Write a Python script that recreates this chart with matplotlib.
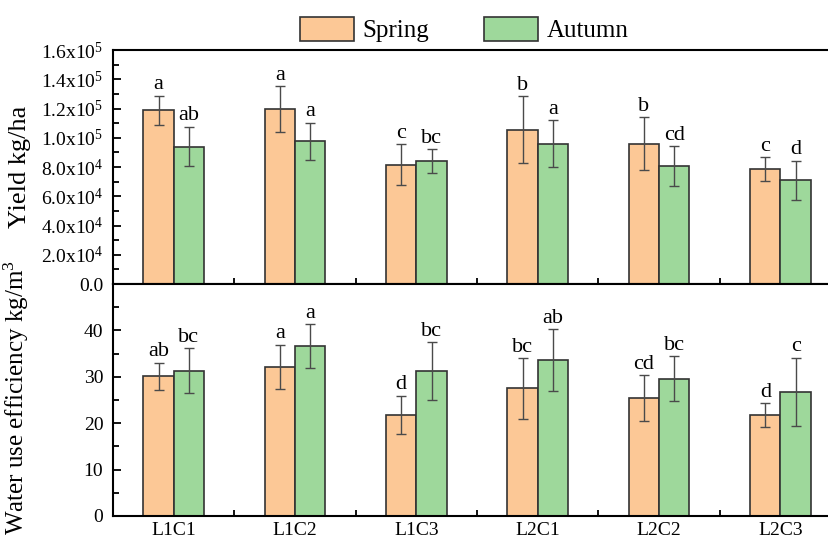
import matplotlib
matplotlib.use("Agg")
import matplotlib.pyplot as plt
import numpy as np
from matplotlib.ticker import MultipleLocator, FuncFormatter

plt.rcParams['font.family'] = ['Liberation Serif', 'DejaVu Serif']
plt.rcParams['mathtext.fontset'] = 'custom'
plt.rcParams['mathtext.rm'] = 'Liberation Serif'
plt.rcParams['mathtext.it'] = 'Liberation Serif:italic'
plt.rcParams['mathtext.default'] = 'regular'

# treatments and seasons
groups = ['L1C1', 'L1C2', 'L1C3', 'L2C1', 'L2C2', 'L2C3']
seasons = ['Spring', 'Autumn']

# yield, kg/ha
yield_spring = [118700, 119700, 81600, 105500, 96000, 78600]
yield_spring_err = [10200, 15700, 14100, 23000, 18200, 8000]
yield_autumn = [94000, 97700, 83900, 96000, 80700, 71000]
yield_autumn_err = [13500, 12600, 8200, 16200, 13500, 13300]
yield_spring_sig = ['a', 'a', 'c', 'b', 'b', 'c']
yield_autumn_sig = ['ab', 'a', 'bc', 'a', 'cd', 'd']

# water use efficiency, kg/m3
wue_spring = [30.1, 32.1, 21.8, 27.5, 25.4, 21.7]
wue_spring_err = [2.9, 4.8, 4.1, 6.5, 4.9, 2.6]
wue_autumn = [31.3, 36.6, 31.3, 33.6, 29.6, 26.8]
wue_autumn_err = [4.8, 4.8, 6.2, 6.6, 4.9, 7.3]
wue_spring_sig = ['ab', 'a', 'd', 'bc', 'cd', 'd']
wue_autumn_sig = ['bc', 'a', 'bc', 'ab', 'bc', 'c']

c_spring = '#FCC896'
c_autumn = '#9ED89B'
edge = '#333333'

fig = plt.figure(figsize=(8.29, 5.42), dpi=100)
ax1 = fig.add_axes([0.1363, 0.476, 0.8637, 0.4317])
ax2 = fig.add_axes([0.1363, 0.048, 0.8637, 0.428])

x = np.arange(len(groups))
w = 0.25


def draw(ax, s, se, a, ae, ssig, asig):
    b1 = ax.bar(x - w / 2, s, w, color=c_spring, edgecolor=edge, lw=1.2,
                label=seasons[0], zorder=2)
    b2 = ax.bar(x + w / 2, a, w, color=c_autumn, edgecolor=edge, lw=1.2,
                label=seasons[1], zorder=2)
    ax.errorbar(x - w / 2, s, yerr=se, fmt='none', ecolor='#4a4a4a',
                elinewidth=1, capsize=3.5, capthick=1, zorder=3)
    ax.errorbar(x + w / 2, a, yerr=ae, fmt='none', ecolor='#4a4a4a',
                elinewidth=1, capsize=3.5, capthick=1, zorder=3)
    for xi, v, e, t in zip(x - w / 2, s, se, ssig):
        ax.annotate(t, (xi, v + e), xytext=(0, 1), textcoords='offset points',
                    ha='center', va='bottom', fontsize=16)
    for xi, v, e, t in zip(x + w / 2, a, ae, asig):
        ax.annotate(t, (xi, v + e), xytext=(0, 1), textcoords='offset points',
                    ha='center', va='bottom', fontsize=16)
    ax.set_xlim(-0.5, 5.4)
    ax.set_xticks(x)
    ax.set_xticks(x[:-1] + 0.5, minor=True)
    ax.spines['right'].set_visible(False)
    for sp in ['left', 'top', 'bottom']:
        ax.spines[sp].set_linewidth(1.5)
    ax.tick_params(axis='both', which='both', direction='in', width=1.3)
    ax.tick_params(axis='both', which='major', length=6, labelsize=14)
    ax.tick_params(axis='both', which='minor', length=4)
    ax.tick_params(axis='x', which='major', length=0)
    ax.tick_params(axis='y', which='major', pad=7)
    return b1, b2


b1, b2 = draw(ax1, yield_spring, yield_spring_err, yield_autumn,
              yield_autumn_err, yield_spring_sig, yield_autumn_sig)
draw(ax2, wue_spring, wue_spring_err, wue_autumn, wue_autumn_err,
     wue_spring_sig, wue_autumn_sig)


def sci(v, pos):
    if v <= 0:
        return '0.0'
    e = int(np.floor(np.log10(v)))
    return r'%.1fx10$^{%d}$' % (v / 10 ** e, e)


ax1.set_ylim(0, 160000)
ax1.set_yticks(np.arange(0, 160001, 20000))
ax1.yaxis.set_minor_locator(MultipleLocator(10000))
ax1.yaxis.set_major_formatter(FuncFormatter(sci))
ax1.tick_params(axis='x', labelbottom=False)
ax1.set_ylabel('Yield kg/ha', fontsize=19)
ax1.yaxis.set_label_coords(-0.115, 0.5)

ax2.set_ylim(0, 50)
ax2.set_yticks([0, 10, 20, 30, 40])
ax2.yaxis.set_minor_locator(MultipleLocator(5))
ax2.set_xticklabels(groups)
ax2.tick_params(axis='x', pad=4)
ax2.set_ylabel('Water use efficiency kg/m$^3$', fontsize=18)
ax2.yaxis.set_label_coords(-0.115, 0.51)

fig.legend([b1, b2], seasons, loc='center', bbox_to_anchor=(0.56, 0.945),
           ncol=2, frameon=False, fontsize=18, handlelength=2.16,
           handleheight=1.08, columnspacing=2.2, handletextpad=0.35,
           borderpad=0.2)

fig.savefig('out.png', dpi=100)
